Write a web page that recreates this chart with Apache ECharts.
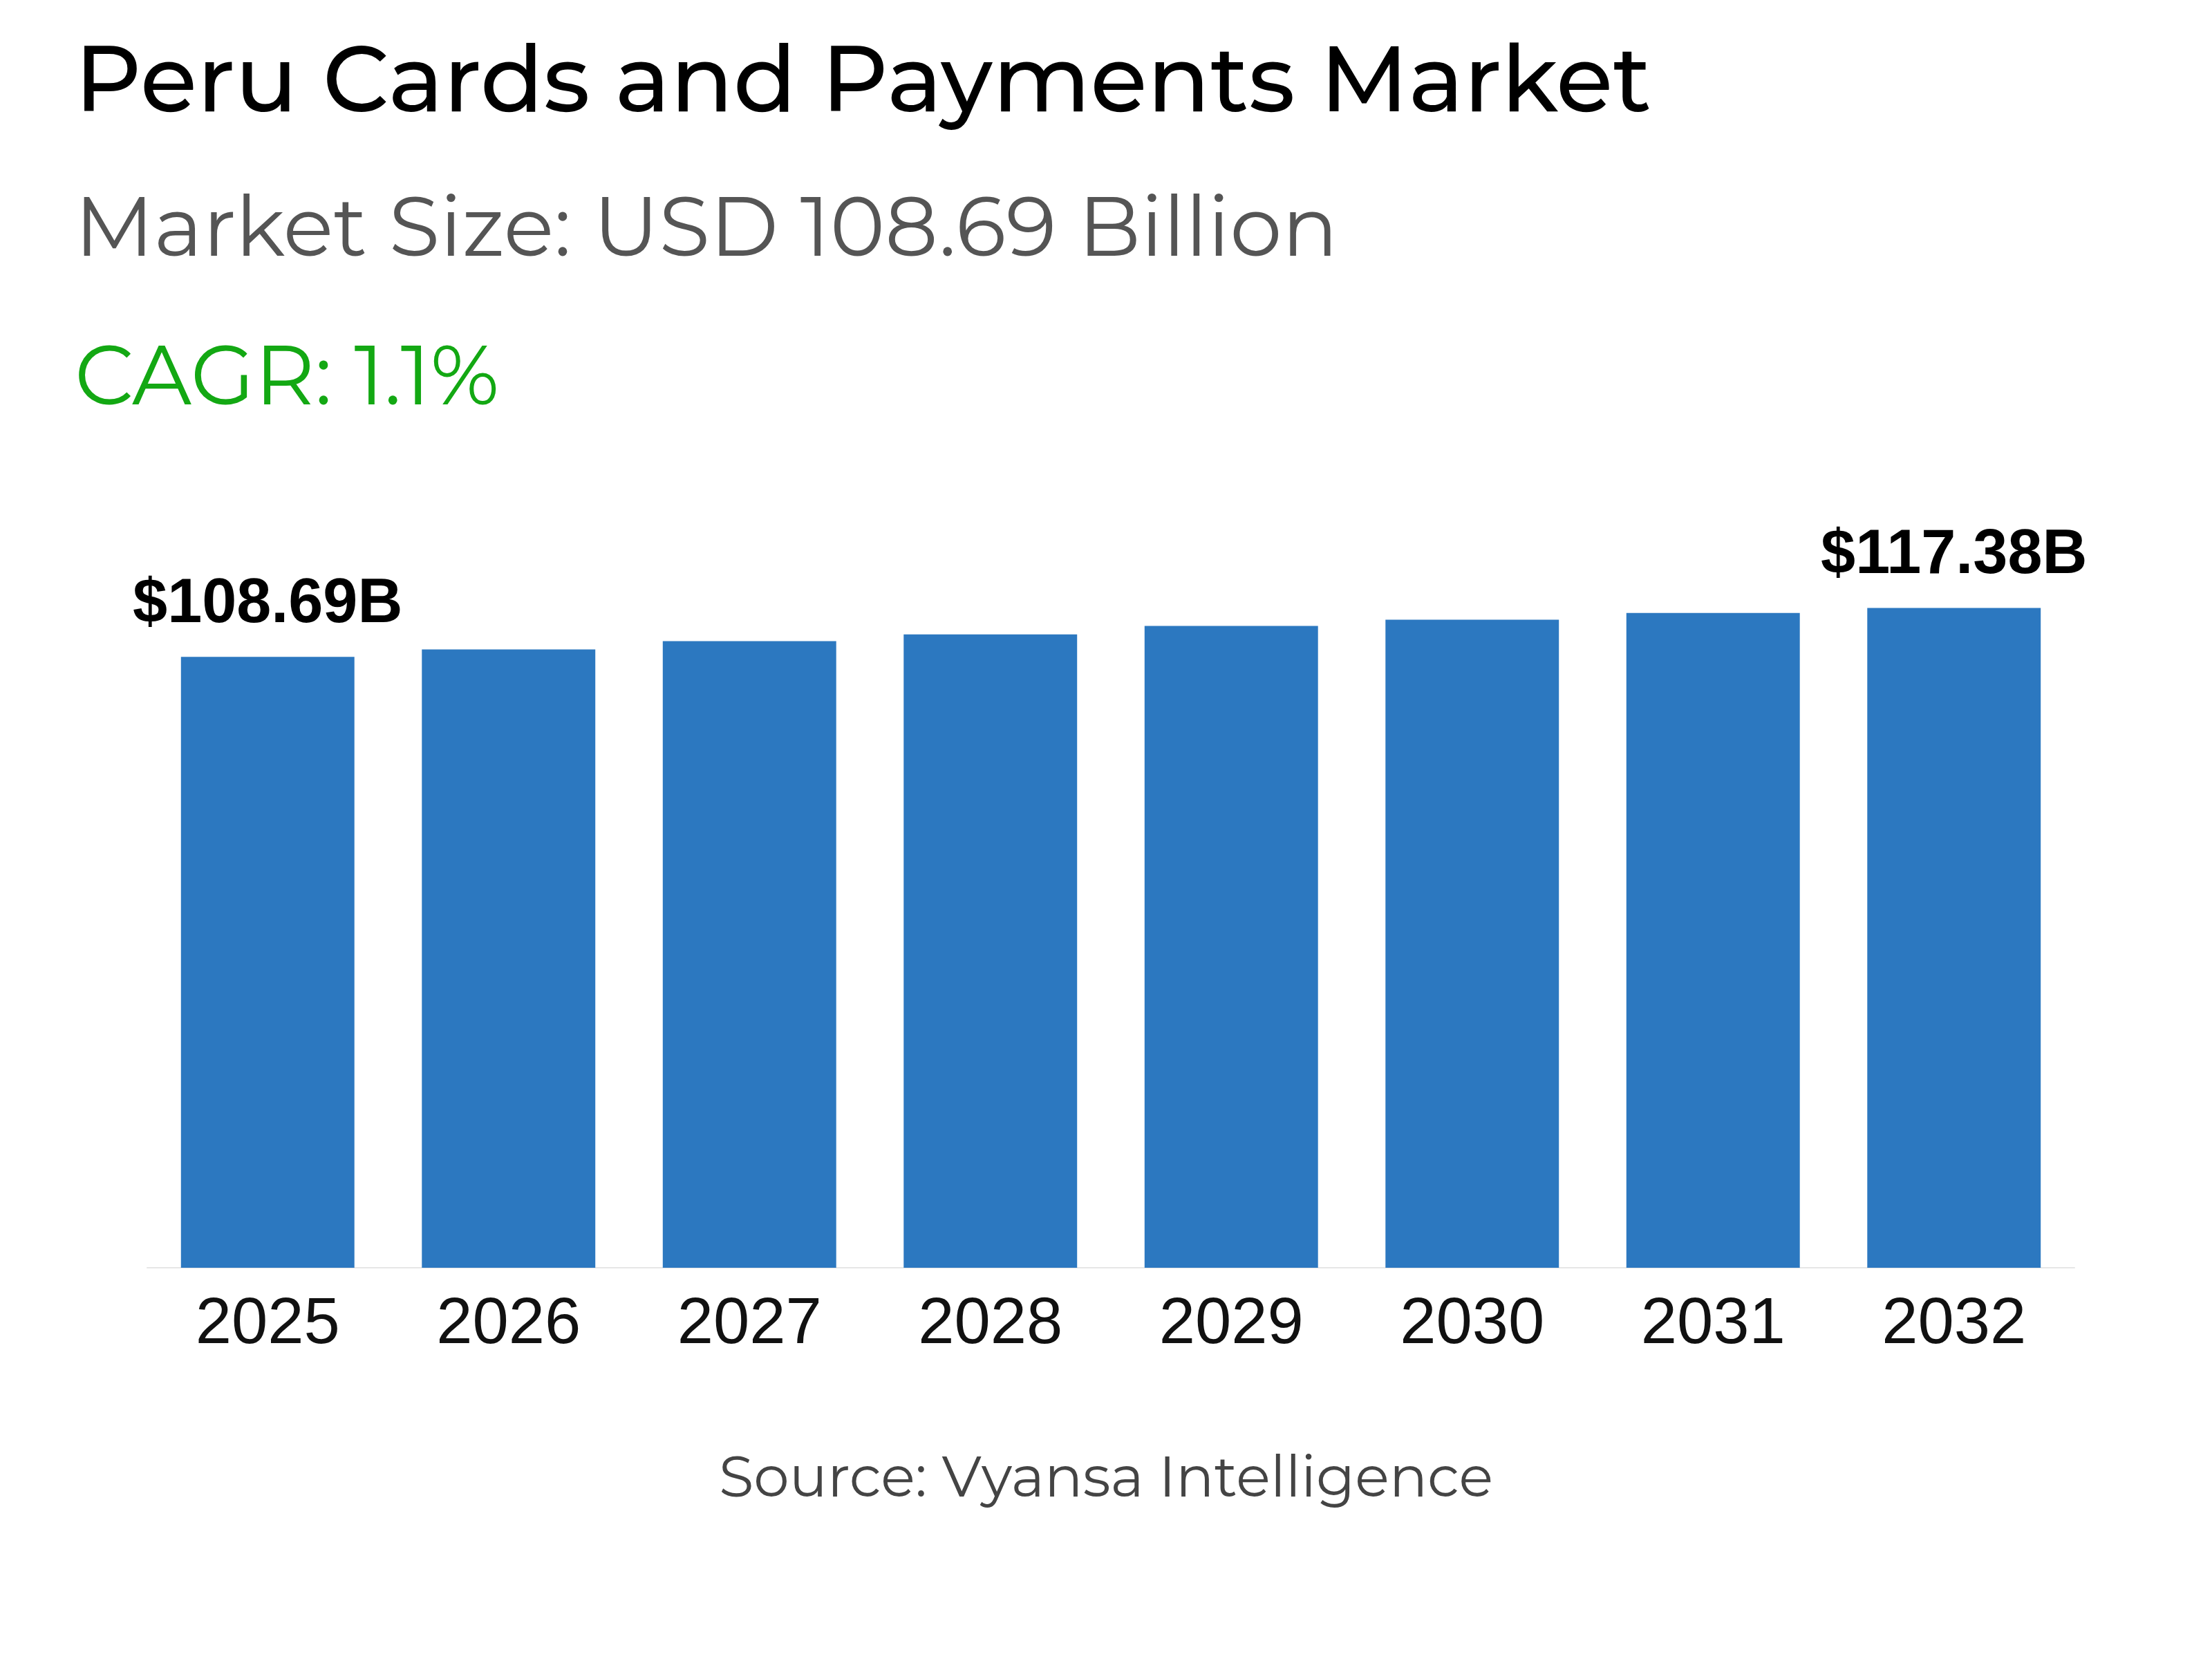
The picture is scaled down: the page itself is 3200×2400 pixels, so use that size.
<!DOCTYPE html>
<html><head><meta charset="utf-8">
<script src="https://cdn.jsdelivr.net/npm/echarts@6/dist/echarts.min.js"></script>
<style>html,body{margin:0;padding:0;background:#fff}#c{width:3200px;height:2400px}</style>
</head><body><div id="c"></div>
<script>
const categories = ['2025','2026','2027','2028','2029','2030','2031','2032'];
const values = [108.69, 110.0, 111.5, 112.7, 114.2, 115.3, 116.5, 117.38];
const labels = ['$108.69B','','','','','','','$117.38B'];
const titleText = 'Peru Cards and Payments Market';
const subtitleText = 'Market Size: USD 108.69 Billion';
const cagrText = 'CAGR: 1.1%';
const sourceText = 'Source: Vyansa Intelligence';

const chart = echarts.init(document.getElementById('c'));
const font = 'Montserrat, "Open Sans", sans-serif';
chart.setOption({
  backgroundColor: '#fff',
  animation: false,
  graphic: [
    {type:'text', left:108, top:55, style:{text:titleText, font:'500 134px '+font, fill:'#000'}},
    {type:'text', left:108, top:275, style:{text:subtitleText, font:'400 120px '+font, fill:'#555'}},
    {type:'text', left:108, top:490, style:{text:cagrText, font:'400 120px '+font, fill:'#13a813'}},
    {type:'text', left:'center', top:2100, style:{text:sourceText, font:'400 82px '+font, fill:'#444'}}
  ],
  grid: {left:213, right:199, top:777, bottom:566},
  xAxis: {
    type:'category', data:categories,
    axisLine:{lineStyle:{color:'#e6e6e6', width:2}},
    axisTick:{show:false},
    axisLabel:{color:'#111', fontSize:94, fontFamily:'"Liberation Sans", Arial, sans-serif', margin:36}
  },
  yAxis: {type:'value', min:0, max:130, show:false, splitLine:{show:false}},
  series: [{
    type:'bar', data:values, barWidth:'72%',
    itemStyle:{color:'#2c78c0'},
    label:{show:true, position:'top', distance:30,
      formatter:p=>labels[p.dataIndex],
      fontSize:90, fontWeight:'bold', color:'#000', fontFamily:'"Liberation Sans", Arial, sans-serif'}
  }]
});
</script></body></html>
